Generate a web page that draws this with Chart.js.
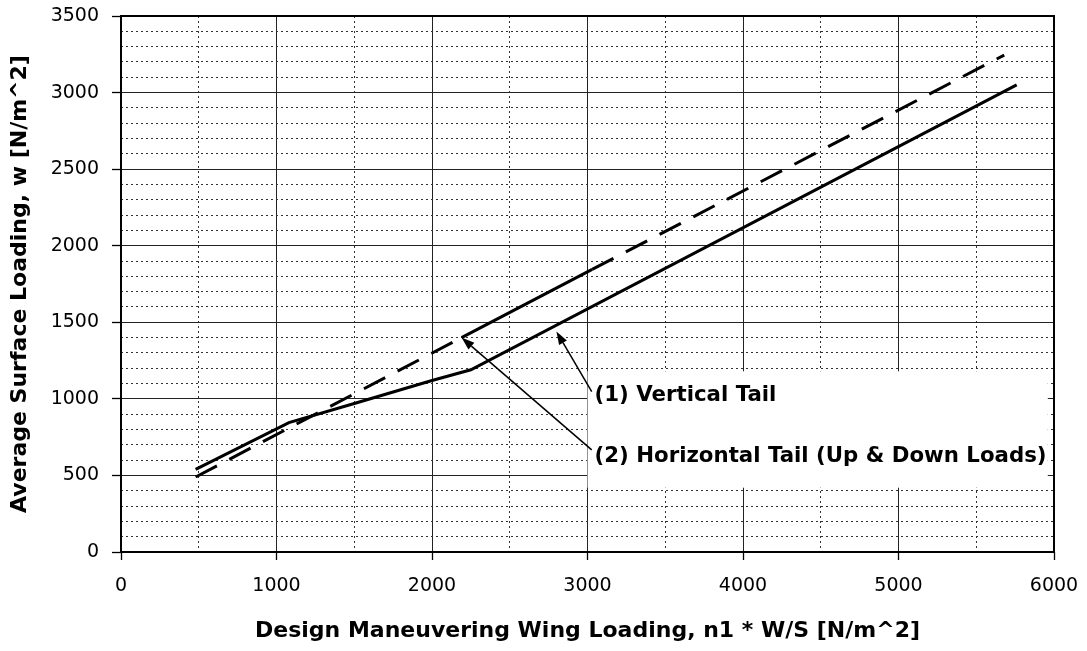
<!DOCTYPE html>
<html><head><meta charset="utf-8">
<script src="https://cdn.jsdelivr.net/npm/chart.js@4.4.1/dist/chart.umd.min.js"></script>
<style>html,body{margin:0;padding:0;background:#fff}#wrap{width:1087px;height:651px;position:relative}canvas{display:block}</style>
</head><body><div id="wrap"><canvas id="c" width="1087" height="651"></canvas></div>
<script>
// ---- data ----
const verticalTailX = [480, 1080, 1500, 2000, 2250, 5760];
const verticalTailY = [540, 845, 970, 1120, 1190, 3050];
const horizontalTailX = [480, 2190, 3030, 5680];
const horizontalTailY = [490, 1400, 1845, 3245];
const xTickValues = [0, 1000, 2000, 3000, 4000, 5000, 6000];
const yTickValues = [0, 500, 1000, 1500, 2000, 2500, 3000, 3500];
const seriesNames = ['(1) Vertical Tail', '(2) Horizontal Tail (Up & Down Loads)'];
const xTitle = 'Design Maneuvering Wing Loading, n1 * W/S [N/m^2]';
const yTitle = 'Average Surface Loading, w [N/m^2]';

// ---- annotation layout (data coordinates) ----
const noteBox = {x0: 3000, x1: 5960, y0: 420, y1: 1180};
const noteText = [{x: 3045, y: 1020}, {x: 3045, y: 621}];
const noteArrows = [{fx: 3027, fy: 1048, tx: 2800, ty: 1440}, {fx: 3027, fy: 667, tx: 2190, ty: 1400}];

const toPts = (xs, ys) => xs.map((x, i) => ({x, y: ys[i]}));
Chart.defaults.font.family = "'DejaVu Sans', Verdana, sans-serif";
Chart.defaults.color = '#000';

const annot = {
  id: 'annot',
  afterDatasetsDraw(chart) {
    const {ctx, scales: {x, y}} = chart;
    ctx.save();
    ctx.fillStyle = '#fff';
    const bx0 = x.getPixelForValue(noteBox.x0), bx1 = x.getPixelForValue(noteBox.x1);
    const by0 = y.getPixelForValue(noteBox.y1), by1 = y.getPixelForValue(noteBox.y0);
    ctx.fillRect(bx0, by0, bx1 - bx0, by1 - by0);
    ctx.fillStyle = '#000';
    ctx.font = "bold 21.3px 'DejaVu Sans'";
    ctx.textBaseline = 'middle';
    ctx.textAlign = 'left';
    seriesNames.forEach((t, i) => ctx.fillText(t, x.getPixelForValue(noteText[i].x), y.getPixelForValue(noteText[i].y)));
    ctx.strokeStyle = '#000';
    ctx.lineWidth = 1.5;
    noteArrows.forEach(a => {
      const fx = x.getPixelForValue(a.fx), fy = y.getPixelForValue(a.fy);
      const tx = x.getPixelForValue(a.tx), ty = y.getPixelForValue(a.ty);
      const ang = Math.atan2(ty - fy, tx - fx);
      const L = 13, W = 4.5;
      const bxp = tx - L * Math.cos(ang), byp = ty - L * Math.sin(ang);
      ctx.beginPath(); ctx.moveTo(fx, fy); ctx.lineTo(bxp, byp); ctx.stroke();
      ctx.beginPath();
      ctx.moveTo(tx, ty);
      ctx.lineTo(bxp + W * Math.sin(ang), byp - W * Math.cos(ang));
      ctx.lineTo(bxp - W * Math.sin(ang), byp + W * Math.cos(ang));
      ctx.closePath(); ctx.fill();
    });
    ctx.restore();
  },
  afterDraw(chart) {
    const {ctx, chartArea: a} = chart;
    ctx.save();
    ctx.strokeStyle = '#000';
    ctx.lineWidth = 2;
    ctx.strokeRect(a.left, a.top, a.right - a.left, a.bottom - a.top);
    ctx.restore();
  }
};

const noPadH = s => { s.paddingLeft = 0; s.paddingRight = 0; };
const noPadV = s => { s.paddingTop = 0; s.paddingBottom = 0; };

new Chart(document.getElementById('c'), {
  type: 'scatter',
  data: {
    datasets: [
      {label: seriesNames[0], data: toPts(verticalTailX, verticalTailY), showLine: true, borderColor: '#000', borderWidth: 3, pointRadius: 0, tension: 0, order: 2},
      {label: seriesNames[1], data: toPts(horizontalTailX, horizontalTailY), showLine: true, borderColor: '#000', borderWidth: 3, borderDash: [24, 14], pointRadius: 0, tension: 0, order: 1,
       segment: {borderDash: c => (c.p0DataIndex === 1 ? [] : [24, 14])}}
    ]
  },
  plugins: [annot],
  options: {
    responsive: false, animation: false, devicePixelRatio: 1,
    layout: {padding: {top: 16, right: 33, left: 0, bottom: 0}},
    plugins: {legend: {display: false}, tooltip: {enabled: false}},
    scales: {
      x: {
        type: 'linear', min: 0, max: 6000, position: 'bottom',
        afterBuildTicks: s => { s.ticks = xTickValues.map(v => ({value: v})); },
        afterFit: s => { s.height = 99; noPadH(s); },
        ticks: {font: {size: 19}, padding: 15, callback: v => String(v), maxRotation: 0, autoSkip: false},
        grid: {color: '#222', lineWidth: 1, tickLength: 8, tickColor: '#000', tickWidth: 1.3},
        border: {display: false},
        title: {display: true, text: xTitle, font: {size: 22, weight: 'bold'}, padding: {top: 0, bottom: 7}}
      },
      x2: {
        type: 'linear', min: 0, max: 6000, position: 'bottom',
        afterFit: s => { s.height = 0; noPadH(s); },
        ticks: {display: false, stepSize: 500},
        grid: {drawTicks: false, lineWidth: 1, color: c => (c.tick && c.tick.value % 1000 === 0) ? 'rgba(0,0,0,0)' : '#333'},
        border: {display: false, dash: [2, 3]}
      },
      y: {
        type: 'linear', min: 0, max: 3500, position: 'left',
        afterBuildTicks: s => { s.ticks = yTickValues.map(v => ({value: v})); },
        afterFit: s => { s.width = 121; noPadV(s); },
        ticks: {font: {size: 19}, padding: 13, callback: v => String(v), autoSkip: false},
        grid: {color: '#222', lineWidth: 1, tickLength: 9, tickColor: '#000', tickWidth: 1.3},
        border: {display: false},
        title: {display: true, text: yTitle, font: {size: 22, weight: 'bold'}, padding: {top: 7, bottom: 0}}
      },
      y2: {
        type: 'linear', min: 0, max: 3500, position: 'left',
        afterFit: s => { s.width = 0; noPadV(s); },
        ticks: {display: false, stepSize: 100},
        grid: {drawTicks: false, lineWidth: 1, color: c => (c.tick && c.tick.value % 500 === 0) ? 'rgba(0,0,0,0)' : '#333'},
        border: {display: false, dash: [2, 3]}
      }
    }
  }
});
</script></body></html>
